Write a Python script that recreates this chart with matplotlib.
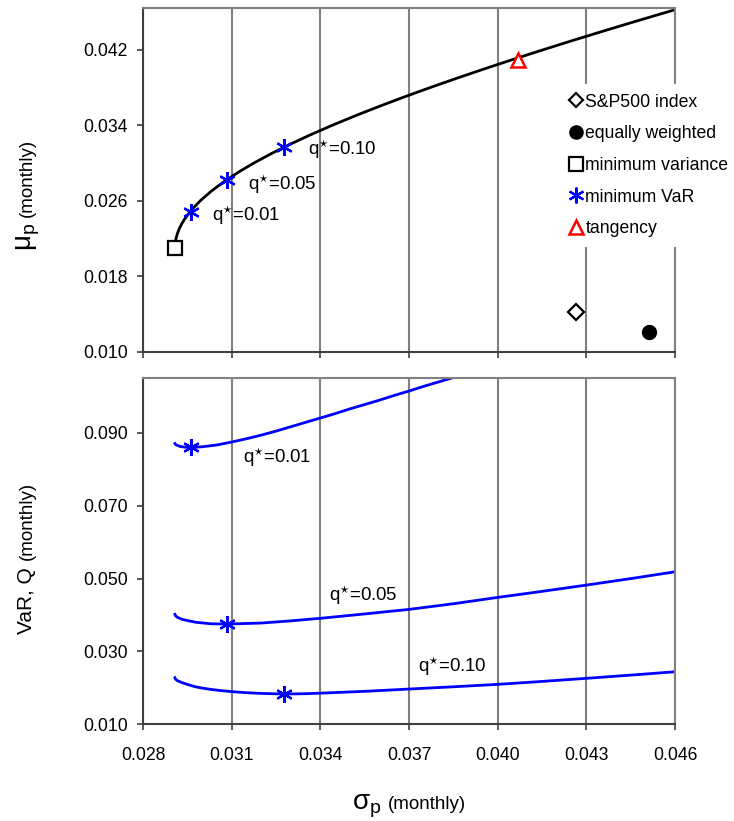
import matplotlib
matplotlib.use('Agg')
import matplotlib.pyplot as plt

plt.rcParams['font.family'] = ['Liberation Sans', 'DejaVu Sans']
plt.rcParams['mathtext.fontset'] = 'custom'
plt.rcParams['mathtext.rm'] = 'Liberation Sans'
plt.rcParams['mathtext.it'] = 'Liberation Sans:italic'
plt.rcParams['mathtext.bf'] = 'Liberation Sans:bold'

# efficient frontier (top panel)
frontier_sigma = [0.02908, 0.029082, 0.02909, 0.029118, 0.029163, 0.029224, 0.029302,
                  0.029398, 0.029637, 0.029942, 0.030309, 0.030736, 0.031221, 0.031762,
                  0.032354, 0.032997, 0.033687, 0.034419, 0.035194, 0.036007, 0.036856,
                  0.037739, 0.038653, 0.039596, 0.040566, 0.041562, 0.042580, 0.043621,
                  0.044682, 0.045762, 0.046089]
frontier_mu = [0.02094, 0.0212, 0.0215, 0.0220, 0.0225, 0.0230, 0.0235,
               0.0240, 0.0250, 0.0260, 0.0270, 0.0280, 0.0290, 0.0300,
               0.0310, 0.0320, 0.0330, 0.0340, 0.0350, 0.0360, 0.0370,
               0.0380, 0.0390, 0.0400, 0.0410, 0.0420, 0.0430, 0.0440,
               0.0450, 0.0460, 0.0463]

# special portfolios (sigma, mu)
sp500_sigma, sp500_mu = 0.04264, 0.01423
ew_sigma, ew_mu = 0.04513, 0.01212
minvar_sigma, minvar_mu = 0.02908, 0.02094
tangency_sigma, tangency_mu = 0.0407, 0.0409

q_labels = ['0.01', '0.05', '0.10']
minvar_q_sigma = [0.02961, 0.03083, 0.03278]
minvar_q_mu = [0.02475, 0.02814, 0.03166]
minvar_q_var = [0.0860, 0.03752, 0.01831]

# VaR along the frontier (bottom panel)
var01_sigma = [0.02908, 0.02912, 0.02925, 0.02940, 0.02961, 0.0300, 0.0305, 0.0310,
               0.0315, 0.0320, 0.0325, 0.0330, 0.0335, 0.0340, 0.0345, 0.0350,
               0.0355, 0.0360, 0.0365, 0.0370, 0.0375, 0.0380, 0.0385]
var01 = [0.0871, 0.0867, 0.0863, 0.0861, 0.0860, 0.0862, 0.0867, 0.0875,
         0.0884, 0.0894, 0.0905, 0.0917, 0.0929, 0.0941, 0.0953, 0.0966,
         0.0978, 0.0990, 0.1003, 0.1015, 0.1028, 0.1040, 0.1052]
var05_sigma = [0.02908, 0.02910, 0.02916, 0.02933, 0.02955, 0.0298, 0.0303, 0.03083,
               0.0320, 0.0330, 0.0340, 0.0355, 0.0370, 0.0385, 0.0400, 0.0415,
               0.0430, 0.0445, 0.0460]
var05 = [0.0402, 0.0398, 0.0394, 0.0388, 0.0384, 0.0380, 0.0376, 0.03752,
         0.0378, 0.0384, 0.0391, 0.0403, 0.04155, 0.0431, 0.04484, 0.0465,
         0.04822, 0.0500, 0.05187]
var10_sigma = [0.02908, 0.02910, 0.02916, 0.02933, 0.02960, 0.0298, 0.0300, 0.0303,
               0.0306, 0.0310, 0.0315, 0.0320, 0.03278, 0.0335, 0.0340, 0.0355,
               0.0370, 0.0385, 0.0400, 0.0415, 0.0430, 0.0445, 0.0460]
var10 = [0.02279, 0.0224, 0.0220, 0.02141, 0.02070, 0.02025, 0.01995, 0.01958,
         0.01928, 0.01897, 0.01868, 0.01848, 0.01831, 0.01840, 0.01855, 0.01905,
         0.01968, 0.0203, 0.02097, 0.02177, 0.02262, 0.0235, 0.02443]

x_ticks = [0.028, 0.031, 0.034, 0.037, 0.040, 0.043, 0.046]
top_yticks = [0.010, 0.018, 0.026, 0.034, 0.042]
bot_yticks = [0.010, 0.030, 0.050, 0.070, 0.090]

W, H = 734, 821
fig = plt.figure(figsize=(W / 100, H / 100), dpi=100)
ax1 = fig.add_axes([143 / W, 1 - 351.7 / H, 532 / W, 343.7 / H])
ax2 = fig.add_axes([143 / W, 1 - 724.3 / H, 532 / W, 346 / H])

FS = 12.7
dark = '#404040'
grid = '#808080'

for ax in (ax1, ax2):
    ax.set_xlim(0.028, 0.046)
    ax.set_xticks(x_ticks)
    ax.grid(axis='x', color=grid, linewidth=1.5, zorder=0)
    ax.set_axisbelow(True)
    for s in ('top', 'right'):
        ax.spines[s].set_color(grid)
        ax.spines[s].set_linewidth(1.5)
    for s in ('left', 'bottom'):
        ax.spines[s].set_color(dark)
        ax.spines[s].set_linewidth(1.5)
    ax.tick_params(axis='both', direction='out', length=4, width=1.2, color=dark,
                   labelsize=FS)
    ax.tick_params(axis='y', pad=7)
    ax.tick_params(axis='x', pad=12)

# top panel
ax1.set_ylim(0.010, 0.0464)
ax1.set_yticks(top_yticks)
ax1.set_yticklabels(['%.3f' % v for v in top_yticks])
ax1.set_xticklabels([])
ax1.plot(frontier_sigma, frontier_mu, color='black', linewidth=2, zorder=2)
ax1.plot([sp500_sigma], [sp500_mu], linestyle='none', marker='D', markersize=8,
         markerfacecolor='white', markeredgecolor='black', markeredgewidth=1.6,
         label='S&P500 index', zorder=3)
ax1.plot([ew_sigma], [ew_mu], linestyle='none', marker='o', markersize=10,
         color='black', label='equally weighted', zorder=3)
ax1.plot([minvar_sigma], [minvar_mu], linestyle='none', marker='s', markersize=10,
         markerfacecolor='white', markeredgecolor='black', markeredgewidth=1.6,
         label='minimum variance', zorder=3)
ax1.plot(minvar_q_sigma, minvar_q_mu, linestyle='none', marker=(6, 2, 0),
         markersize=12, markeredgewidth=1.6, color='#0000FF', label='minimum VaR',
         zorder=3)
ax1.plot([tangency_sigma], [tangency_mu], linestyle='none', marker='^', markersize=10,
         markerfacecolor='white', markeredgecolor='#FF0000', markeredgewidth=1.8,
         label='tangency', zorder=3)

LFS = 13.4
top_label_pos = [(0.03032, 0.02440), (0.03154, 0.02778), (0.03358, 0.03145)]
for q, (x, y) in zip(q_labels, top_label_pos):
    ax1.text(x, y, r'q$^{\star}$=' + q, fontsize=LFS, ha='left', va='center')

leg = ax1.legend(loc='upper left', bbox_to_anchor=(0.785, 0.779), frameon=True,
                 facecolor='white', edgecolor='none', framealpha=1, fancybox=False,
                 fontsize=FS, handlelength=0.6, handletextpad=0.25, labelspacing=0.83,
                 borderpad=0.55, borderaxespad=0, numpoints=1, markerscale=0.95)
leg.set_zorder(5)

# bottom panel
ax2.set_ylim(0.010, 0.105)
ax2.set_yticks(bot_yticks)
ax2.set_yticklabels(['%.3f' % v for v in bot_yticks])
ax2.set_xticklabels(['%.3f' % v for v in x_ticks])
for xs, ys in ((var01_sigma, var01), (var05_sigma, var05), (var10_sigma, var10)):
    ax2.plot(xs, ys, color='#0000FF', linewidth=2, zorder=2)
ax2.plot(minvar_q_sigma, minvar_q_var, linestyle='none', marker=(6, 2, 0),
         markersize=12, markeredgewidth=1.6, color='#0000FF', zorder=3)

bot_label_pos = [(0.03137, 0.08342), (0.03430, 0.04547), (0.03731, 0.02600)]
for q, (x, y) in zip(q_labels, bot_label_pos):
    ax2.text(x, y, r'q$^{\star}$=' + q, fontsize=LFS, ha='left', va='center')

# axis titles built from two sizes of text
fig.canvas.draw()
renderer = fig.canvas.get_renderer()


def two_part(a, size_a, b, size_b, center_px, base_px, vertical, gap=6):
    rot = 90 if vertical else 0
    ta = fig.text(0, 0, a, fontsize=size_a, rotation=rot, rotation_mode='anchor',
                  ha='left', va='baseline')
    tb = fig.text(0, 0, b, fontsize=size_b, rotation=rot, rotation_mode='anchor',
                  ha='left', va='baseline')
    ea = ta.get_window_extent(renderer)
    eb = tb.get_window_extent(renderer)
    la = ea.height if vertical else ea.width
    lb = eb.height if vertical else eb.width
    total = la + gap + lb
    if vertical:
        start = center_px + total / 2  # pixels from top, text grows upward
        ta.set_position((base_px / W, 1 - start / H))
        tb.set_position((base_px / W, 1 - (start - la - gap) / H))
    else:
        start = center_px - total / 2
        ta.set_position((start / W, 1 - base_px / H))
        tb.set_position(((start + la + gap) / W, 1 - base_px / H))


two_part(r'$\mathregular{μ_p}$', 20, '(monthly)', 13.5, 195, 32, True)
two_part('VaR, Q', 15, '(monthly)', 13.5, 558, 32, True, gap=8)
two_part(r'$\mathregular{σ_p}$', 20, '(monthly)', 13.5, 409, 809, False)

fig.savefig('out.png', dpi=100)
